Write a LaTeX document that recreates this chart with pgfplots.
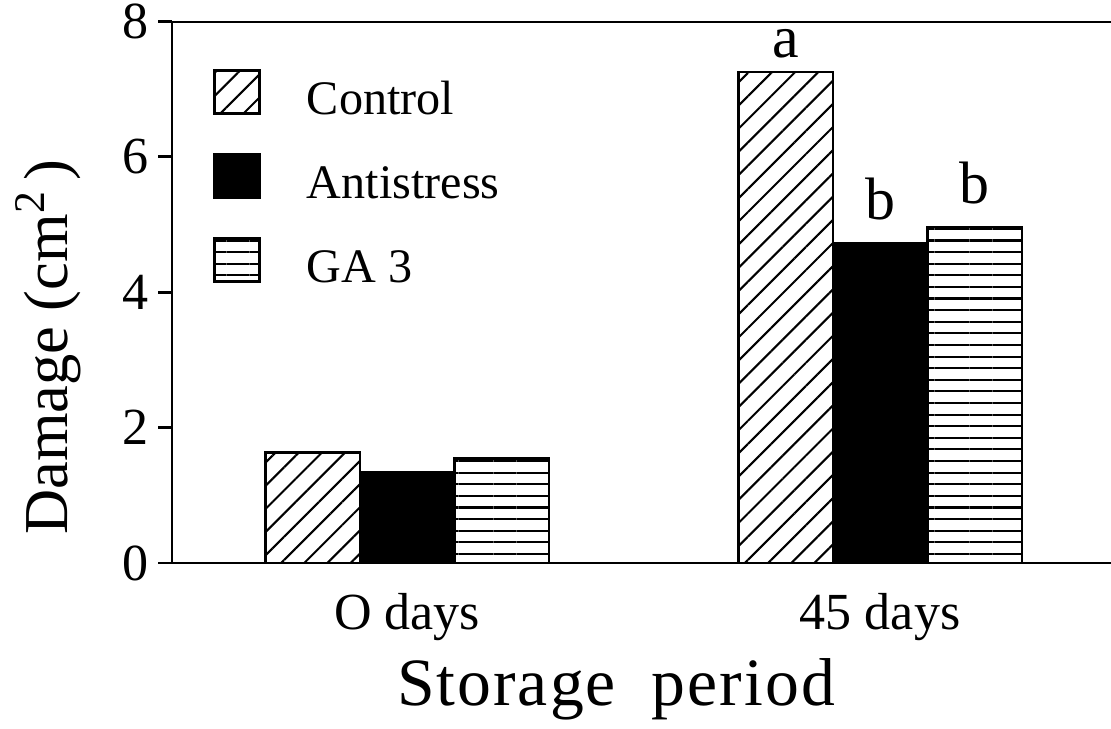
\documentclass[border=0pt]{standalone}
\usepackage{fontspec}
\setmainfont{Liberation Serif}
\newfontfamily\spacedfont[LetterSpace=3]{Liberation Serif}
\usepackage{pgfplots}
\pgfplotsset{compat=1.18}
\usetikzlibrary{patterns.meta}

\begin{document}
\begin{tikzpicture}
\useasboundingbox (-66.1pt,-63.4pt) rectangle (360.7pt,216.3pt);
\begin{axis}[
  at={(0,0)}, anchor=south west,
  scale only axis, width=360.7pt, height=208.2pt,
  xmin=-0.497, xmax=1.488, ymin=0, ymax=8,
  axis x line*=bottom, axis y line*=left,
  axis line style={line width=1.1pt, black},
  xtick={0,1}, xticklabels={O days, 45 days},
  x tick style={draw=none},
  ytick={0,2,4,6,8},
  tick align=outside, major tick length=5.4pt,
  y tick style={line width=1.1pt, black},
  tick label style={font=\fontsize{20}{22}\selectfont},
  /pgf/number format/assume math mode=true,
  yticklabel style={anchor=east, inner sep=0pt, xshift=-3.5pt},
  xticklabel style={anchor=base, inner sep=0pt, yshift=-20pt},
  ylabel={Damage (cm\textsuperscript{2}\,)},
  ylabel style={at={(rel axis cs:-0.132,0.3985)}, anchor=center, font=\fontsize{24}{26}\selectfont},
  xlabel={\spacedfont Storage\hspace{0.25em} period},
  xlabel style={at={(rel axis cs:0.4728,-0.262)}, anchor=base, font=\fontsize{26}{28}\selectfont},
  ybar, bar width=0.2,
  legend style={draw=none, fill=none, at={(rel axis cs:0.0438,0.9116)}, anchor=north west,
    inner sep=0pt, outer sep=0pt, row sep=10.9pt,
    font=\fontsize{18.5}{20}\selectfont,
    nodes={inner sep=0pt, text height=13pt, text depth=4pt},
    /tikz/every odd column/.style={column sep=17.7pt}},
  legend cell align=left,
  legend image code/.code={\draw[#1, line width=1pt] (0pt,-4.2pt) rectangle (17.3pt,12.4pt);},
]
\addplot[draw=black, line width=1pt, pattern={Lines[angle=45,distance=6.3pt,line width=0.8pt]}, bar shift=-0.2]
  coordinates {(0,1.63) (1,7.25)};
\addplot[draw=black, fill=black, line width=1pt, bar shift=0]
  coordinates {(0,1.34) (1,4.72)};
\addplot[draw=black, line width=1pt, pattern={Lines[angle=0,distance=4.46pt,line width=0.8pt]}, bar shift=0.2]
  coordinates {(0,1.54) (1,4.96)};
\legend{Control, Antistress, GA 3}
\draw[line width=1.1pt] (rel axis cs:0,1) -- (rel axis cs:1,1);
\node[anchor=base, font=\fontsize{23}{25}\selectfont, yshift=5.4pt] at (axis cs:0.8,7.25) {a};
\node[anchor=base, font=\fontsize{23}{25}\selectfont, yshift=9.2pt] at (axis cs:1,4.72) {b};
\node[anchor=base, font=\fontsize{23}{25}\selectfont, yshift=9.2pt] at (axis cs:1.2,4.96) {b};
\end{axis}
\end{tikzpicture}
\end{document}
